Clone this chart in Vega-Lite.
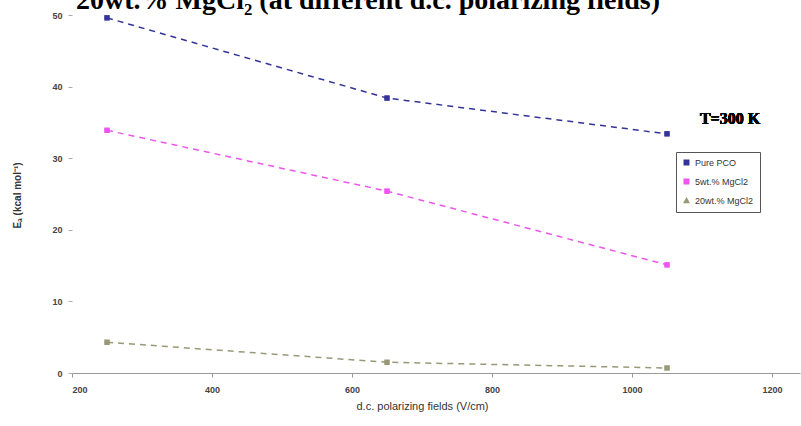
{
  "$schema": "https://vega.github.io/schema/vega-lite/v6.json",
  "width": 728,
  "height": 358,
  "autosize": "none",
  "padding": {"left": 72, "top": 15, "right": 1, "bottom": 53},
  "background": "white",
  "config": {"view": {"stroke": null}},
  "title": {
    "text": "20wt.% MgCl₂ (at different d.c. polarizing fields)",
    "font": "Liberation Serif",
    "fontSize": 28,
    "fontWeight": "bold",
    "color": "#000000",
    "anchor": "middle",
    "dx": -68,
    "offset": 0,
    "dy": 32,
    "baseline": "bottom"
  },
  "data": {
    "values": [
      {"field": 250, "E": 49.6, "series": "Pure PCO"},
      {"field": 650, "E": 38.4, "series": "Pure PCO"},
      {"field": 1050, "E": 33.4, "series": "Pure PCO"},
      {"field": 250, "E": 33.9, "series": "5wt.% MgCl2"},
      {"field": 650, "E": 25.4, "series": "5wt.% MgCl2"},
      {"field": 1050, "E": 15.1, "series": "5wt.% MgCl2"},
      {"field": 250, "E": 4.3, "series": "20wt.% MgCl2"},
      {"field": 650, "E": 1.5, "series": "20wt.% MgCl2"},
      {"field": 1050, "E": 0.7, "series": "20wt.% MgCl2"}
    ]
  },
  "encoding": {
    "x": {
      "field": "field", "type": "quantitative",
      "scale": {"domain": [200, 1240], "nice": false, "zero": false},
      "axis": {
        "values": [200, 400, 600, 800, 1000, 1200],
        "format": "d",
        "title": "d.c. polarizing fields (V/cm)",
        "titleFont": "Liberation Sans", "titleFontSize": 11, "titleFontWeight": "normal", "titleColor": "#333333",
        "titlePadding": 6, "titleX": 350,
        "labelFont": "Liberation Sans", "labelFontSize": 9, "labelFontWeight": "bold", "labelColor": "#444444",
        "labelPadding": 8,
        "domainColor": "#999999", "tickColor": "#999999", "tickSize": 4,
        "grid": false
      }
    },
    "y": {
      "field": "E", "type": "quantitative",
      "scale": {"domain": [0, 50], "nice": false},
      "axis": {
        "values": [0, 10, 20, 30, 40, 50],
        "title": "Eₐ (kcal mol⁻¹)",
        "titleFont": "Liberation Sans", "titleFontSize": 10, "titleFontWeight": "bold", "titleColor": "#333333",
        "titleX": -50, "titleY": 180,
        "labelFont": "Liberation Sans", "labelFontSize": 9, "labelFontWeight": "bold", "labelColor": "#444444",
        "labelPadding": 6,
        "domain": false, "tickColor": "#aaaaaa", "tickSize": 4,
        "grid": false
      }
    },
    "color": {
      "field": "series", "type": "nominal",
      "scale": {"domain": ["Pure PCO", "5wt.% MgCl2", "20wt.% MgCl2"], "range": ["#333399", "#ee55ee", "#999977"]},
      "legend": {
        "orient": "none", "legendX": 604, "legendY": 137,
        "title": null,
        "strokeColor": "#555555", "padding": 6,
        "labelFont": "Liberation Sans", "labelFontSize": 9, "labelColor": "#333333",
        "symbolSize": 20, "rowPadding": 8, "symbolStrokeWidth": 1.5
      }
    },
    "shape": {
      "field": "series", "type": "nominal",
      "scale": {"domain": ["Pure PCO", "5wt.% MgCl2", "20wt.% MgCl2"], "range": ["square", "square", "triangle-up"]},
      "legend": null
    }
  },
  "layer": [
    {
      "mark": {"type": "line", "strokeWidth": 1.5, "strokeDash": [6, 5]},
      "encoding": {"shape": {"value": "square"}}
    },
    {
      "mark": {"type": "point", "filled": true, "size": 20, "opacity": 1}
    },
    {
      "mark": {"type": "text", "font": "Liberation Serif", "fontSize": 16, "fontWeight": "bold", "color": "#000000", "align": "center", "baseline": "bottom"},
      "encoding": {
        "x": {"datum": 1140},
        "y": {"datum": 34.3},
        "text": {"value": "T=300 K"},
        "color": {"value": "#000000"},
        "shape": null
      }
    }
  ]
}
